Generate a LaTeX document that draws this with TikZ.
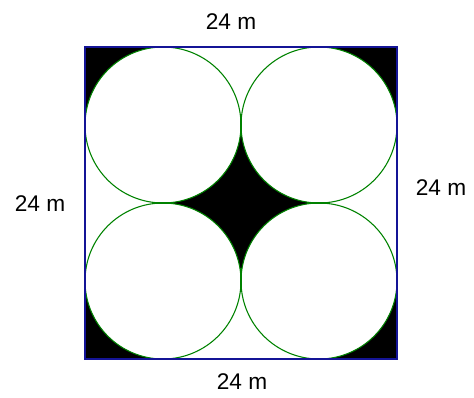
\documentclass[tikz,border=0pt]{standalone}
\usepackage{fontspec}
\setmainfont{Liberation Sans}
\definecolor{sqblue}{RGB}{20,20,150}
\definecolor{cgreen}{RGB}{0,130,0}
\begin{document}
\begin{tikzpicture}[x=0.75pt,y=-0.75pt,
  lbl/.style={font=\fontsize{17}{19}\selectfont, text=black, inner sep=0pt},
  circ/.style={draw=cgreen, line width=0.8pt},
  joint/.style={draw=cgreen, line width=1.8pt},
  sq/.style={draw=sqblue, line width=1.1pt}]
\useasboundingbox (0,0) rectangle (474,397);
\coordinate (tl) at (85,47);
\coordinate (tr) at (397,47);
\coordinate (bl) at (85,359);
\coordinate (br) at (397,359);
\coordinate (c1) at (163,125);
\coordinate (c2) at (319,125);
\coordinate (c3) at (163,281);
\coordinate (c4) at (319,281);
% corners
\fill[black] (tl) -- (163,47) arc[start angle=-90, end angle=-180, radius=78] -- cycle;
\fill[black] (tr) -- (397,125) arc[start angle=0, end angle=-90, radius=78] -- cycle;
\fill[black] (bl) -- (85,281) arc[start angle=180, end angle=90, radius=78] -- cycle;
\fill[black] (br) -- (319,359) arc[start angle=90, end angle=0, radius=78] -- cycle;
% central star
\fill[black] (241,125) arc[start angle=180, end angle=90, radius=78]
  arc[start angle=-90, end angle=-180, radius=78]
  arc[start angle=0, end angle=-90, radius=78]
  arc[start angle=90, end angle=0, radius=78] -- cycle;
\foreach \c in {c1,c2,c3,c4} \draw[circ] (\c) circle[radius=78];
% merged joints
\coordinate (jl1) at (152,203);
\coordinate (jl2) at (174,203);
\coordinate (jr1) at (307,203);
\coordinate (jr2) at (329,203);
\coordinate (jt1) at (241,117);
\coordinate (jt2) at (241,135);
\coordinate (jb1) at (241,268);
\coordinate (jb2) at (241,290);
\draw[joint] (jl1) -- (jl2);
\draw[joint] (jr1) -- (jr2);
\draw[joint] (jt1) -- (jt2);
\draw[joint] (jb1) -- (jb2);
\draw[sq] (tl) rectangle (br);
\node[lbl] (top) at (231,22) {24 m};
\node[lbl] (left) at (40,204) {24 m};
\node[lbl] (right) at (441,188) {24 m};
\node[lbl] (bottom) at (242,382) {24 m};
\end{tikzpicture}
\end{document}
